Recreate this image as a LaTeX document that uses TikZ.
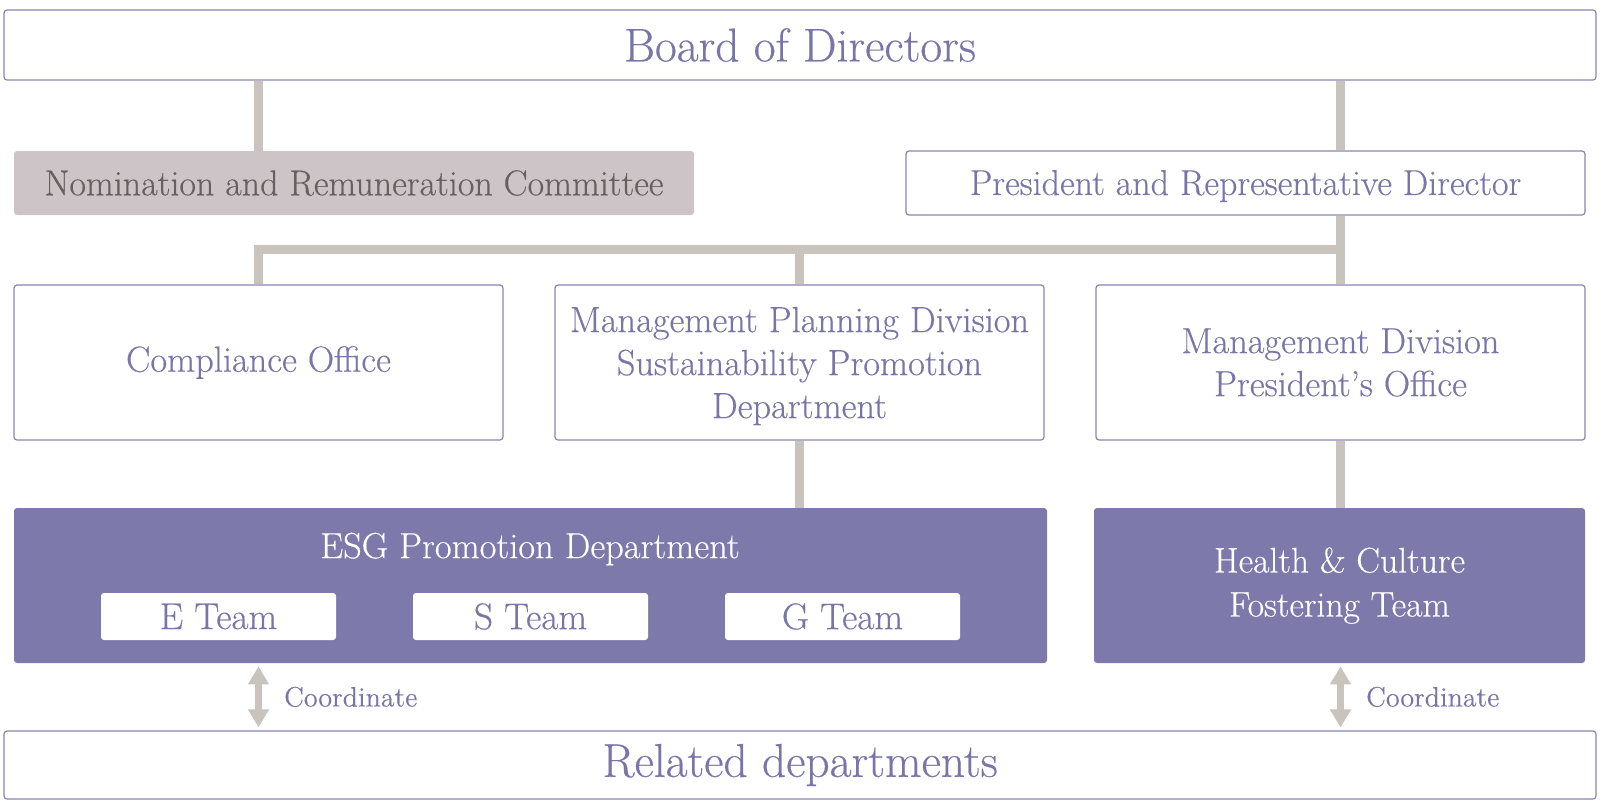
\documentclass[tikz,border=0pt]{standalone}
\usepackage{fontspec}
\setmainfont{Latin Modern Roman}[FakeBold=0.35,AutoFakeBold=0.35]
\usepackage{tikz}
\usetikzlibrary{arrows.meta}
\definecolor{lavText}{RGB}{122,117,168}
\definecolor{lavFill}{RGB}{125,121,171}
\definecolor{lavLine}{RGB}{137,131,178}
\definecolor{linkGrey}{RGB}{200,195,188}
\definecolor{nomFill}{RGB}{204,196,199}
\definecolor{nomText}{RGB}{102,97,97}

\begin{document}
\begin{tikzpicture}[x=0.5pt,y=-0.5pt,
    box/.style={draw=lavLine,line width=0.6pt,fill=white,rounded corners=1.5pt,
      text=lavText,align=center,inner sep=0pt},
    greybox/.style={fill=nomFill,rounded corners=1.5pt,text=nomText,align=center,inner sep=0pt},
    darkbox/.style={fill=lavFill,rounded corners=1.5pt,text=white,align=center,inner sep=0pt},
    teambox/.style={fill=white,rounded corners=1.5pt,text=lavText,inner sep=0pt,
      minimum width=117.5pt,minimum height=23.5pt,font=\fontsize{18.6}{21}\selectfont},
    link/.style={draw=linkGrey,line width=4.5pt},
    coordarrow/.style={draw=linkGrey,line width=3.6pt,
      {Triangle[width=10pt,length=9pt]}-{Triangle[width=10pt,length=9pt]},shorten <=1.5pt,shorten >=1.5pt},
    coordlabel/.style={text=lavText,inner sep=0pt,font=\fontsize{14}{16}\selectfont}]
    \useasboundingbox (0,0) rectangle (1600,809);
    \node[box,minimum width=796pt,minimum height=35pt,font=\fontsize{23.7}{28}\selectfont]
      (board) at (800,45) {Board of Directors};
    \node[greybox,minimum width=340pt,minimum height=32pt,font=\fontsize{18}{22}\selectfont]
      (nom) at (354,183) {Nomination and Remuneration Committee};
    \node[box,minimum width=339.5pt,minimum height=32pt,font=\fontsize{18}{22}\selectfont]
      (pres) at (1245.5,183) {\raisebox{-1.5pt}[\height][\depth]{President and Representative Director}};
    \node[box,minimum width=244.5pt,minimum height=77.5pt,font=\fontsize{18.2}{21.5}\selectfont]
      (comp) at (258.5,362.5) {Compliance Office};
    \node[box,minimum width=244.5pt,minimum height=77.5pt,font=\fontsize{18.2}{21.5}\selectfont]
      (mpd) at (799.5,362.5) {\raisebox{-2pt}[\height][\depth]{\begin{tabular}{@{}c@{}}Management Planning Division\\
        Sustainability Promotion\\Department\end{tabular}}};
    \node[box,minimum width=244.5pt,minimum height=77.5pt,font=\fontsize{18.2}{21.5}\selectfont]
      (md) at (1340.5,362.5) {Management Division\\President's Office};
    \node[darkbox,minimum width=516.5pt,minimum height=77.5pt] (esg) at (530.5,585.5) {};
    \node[text=white,inner sep=0pt,font=\fontsize{18.2}{21}\selectfont]
      (esgtitle) at (530,549) {ESG Promotion Department};
    \node[teambox] (eteam) at (218.5,616.5) {E Team};
    \node[teambox] (steam) at (530.5,616.5) {S Team};
    \node[teambox] (gteam) at (842.5,616.5) {G Team};
    \node[darkbox,minimum width=245.5pt,minimum height=77.5pt,font=\fontsize{17.8}{22}\selectfont]
      (health) at (1339.5,585.5) {Health \& Culture\\Fostering Team};
    \node[box,minimum width=796pt,minimum height=34pt,font=\fontsize{23.7}{28}\selectfont]
      (related) at (800,765) {Related departments};
    \coordinate (bar) at (0,249);
    \draw[link] (board.south -| comp.north) -- (nom.north -| comp.north);
    \draw[link] (board.south -| md.north) -- (pres.north -| md.north);
    \draw[link] (pres.south -| md.north) -- (md.north);
    \draw[link] (comp.north) -- (comp.north |- bar) -- (md.north |- bar);
    \draw[link] (mpd.north |- bar) -- (mpd.north);
    \draw[link] (mpd.south) -- (mpd.south |- esg.north);
    \draw[link] (md.south) -- (md.south |- health.north);
    \draw[coordarrow] (esg.south -| comp.south) -- (related.north -| comp.south)
      node[midway,right=11pt,coordlabel] {Coordinate};
    \draw[coordarrow] (health.south -| md.south) -- (related.north -| md.south)
      node[midway,right=11pt,coordlabel] {Coordinate};
\end{tikzpicture}
\end{document}
